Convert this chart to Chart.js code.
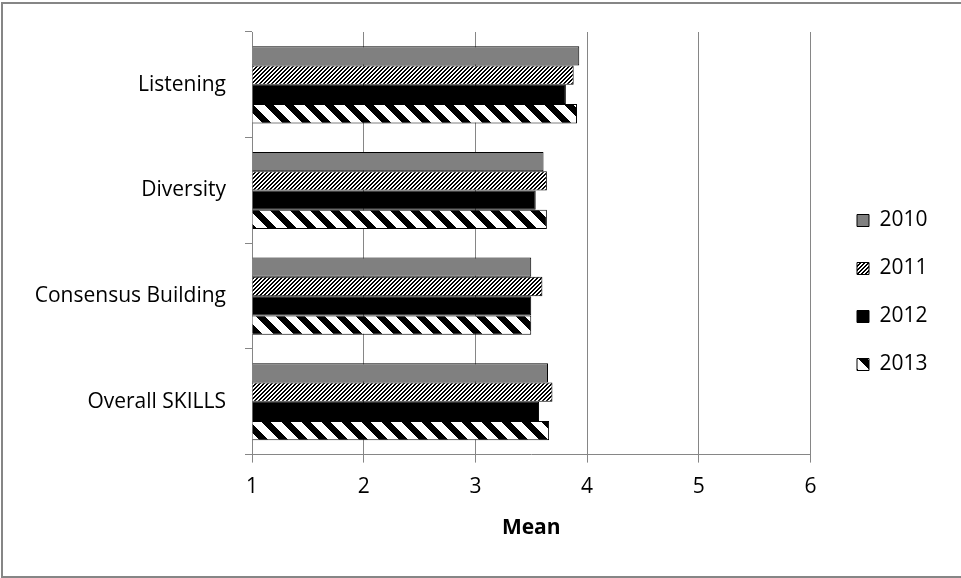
<!DOCTYPE html>
<html>
<head>
<meta charset="utf-8">
<script src="https://cdn.jsdelivr.net/npm/chart.js@4.4.0/dist/chart.umd.min.js"></script>
<style>
    body { margin: 0; background: #fff; }
    #wrap { position: relative; width: 961px; height: 578px; overflow: hidden; }
    #frame {
        position: absolute; left: 1px; top: 2px; width: 980px; height: 576px;
        border: 2px solid #868686; box-sizing: border-box; pointer-events: none;
    }
</style>
</head>
<body>
<div id="wrap">
    <canvas id="skillsChart" width="961" height="578"></canvas>
    <div id="frame"></div>
</div>
<script>
// Datos
const categories = ['Listening', 'Diversity', 'Consensus Building', 'Overall SKILLS'];
const years = ['2010', '2011', '2012', '2013'];
const values2010 = [3.93, 3.61, 3.50, 3.65];
const values2011 = [3.88, 3.64, 3.60, 3.69];
const values2012 = [3.81, 3.54, 3.50, 3.57];
const values2013 = [3.91, 3.64, 3.50, 3.66];
const xTicks = [1, 2, 3, 4, 5, 6];

// Tramas tipo Excel
function makePattern(size, isBlack) {
    const c = document.createElement('canvas');
    c.width = size; c.height = size;
    const g = c.getContext('2d');
    const img = g.createImageData(size, size);
    for (let y = 0; y < size; y++) {
        for (let x = 0; x < size; x++) {
            const v = isBlack(x, y) ? 0 : 255;
            const i = (y * size + x) * 4;
            img.data[i] = v; img.data[i + 1] = v; img.data[i + 2] = v; img.data[i + 3] = 255;
        }
    }
    g.putImageData(img, 0, 0);
    return g.createPattern(c, 'repeat');
}

const ctx = document.getElementById('skillsChart').getContext('2d');
const fineUp = makePattern(4, (x, y) => ((x + y) % 4) >= 2);            // 2011
const wideDown = makePattern(20, (x, y) => (((x - y) % 20) + 20) % 20 < 9); // 2013

Chart.defaults.font.family = "'Open Sans', sans-serif";
Chart.defaults.font.size = 21;
Chart.defaults.color = '#000';

const fills = ['#808080', fineUp, '#000000', wideDown];
const series = [values2010, values2011, values2012, values2013];

// Desplaza la leyenda para dejar el hueco que hay en el original
const legendShift = {
    id: 'legendShift',
    afterLayout(chart) {
        const lg = chart.legend;
        if (!lg) return;
        const dx = 857 - (lg.left + lg.options.labels.padding);
        lg.left += dx;
        lg.right += dx;
        lg.top += 4;
        lg.bottom += 4;
    }
};

new Chart(ctx, {
    type: 'bar',
    data: {
        labels: categories,
        datasets: years.map((y, i) => ({
            label: y,
            data: series[i],
            base: 1,
            backgroundColor: fills[i],
            borderColor: '#000',
            borderWidth: 1,
            categoryPercentage: 0.73,
            barPercentage: 1.0
        }))
    },
    options: {
        indexAxis: 'y',
        responsive: false,
        animation: false,
        layout: { padding: { top: 32, left: 30, right: 43, bottom: 33 } },
        plugins: {
            tooltip: { enabled: false },
            legend: {
                position: 'right',
                labels: {
                    boxWidth: 12,
                    boxHeight: 12,
                    padding: 27,
                    color: '#000',
                    font: { size: 21 }
                }
            }
        },
        scales: {
            x: {
                min: 1,
                max: 6,
                ticks: { stepSize: 1, padding: 12, color: '#000' },
                afterBuildTicks: (axis) => { axis.ticks = xTicks.map(v => ({ value: v })); },
                grid: { color: '#868686', tickLength: 8 },
                border: { color: '#868686' },
                title: { display: true, text: 'Mean', font: { size: 21, weight: 'bold' }, color: '#000', padding: { top: 4, bottom: 4 } }
            },
            y: {
                ticks: { padding: 19, color: '#000' },
                grid: { drawOnChartArea: false, color: '#868686', tickLength: 7, offset: true },
                border: { color: '#868686' }
            }
        }
    },
    plugins: [legendShift]
});
</script>
</body>
</html>
